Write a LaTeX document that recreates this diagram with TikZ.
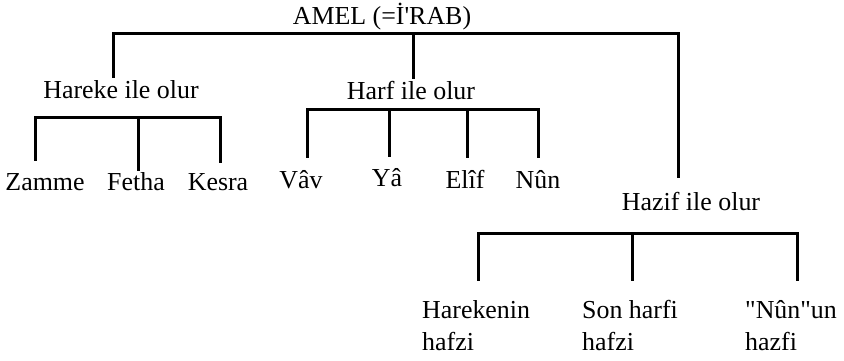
\documentclass[tikz,border=0pt]{standalone}
\usepackage{fontspec}
\setmainfont{Liberation Serif}[Ligatures=TeXOff]
\begin{document}
\begin{tikzpicture}[x=1bp,y=-1bp,
  ln/.style={line width=3bp, line cap=rect, line join=miter},
  lbl/.style={inner sep=0pt, anchor=base, font=\fontsize{26}{32}\selectfont},
  lbltwo/.style={inner sep=0pt, anchor=base west, align=left, font=\fontsize{26}{32}\selectfont}]
\useasboundingbox (0,0) rectangle (844,360);
% labels
\node[lbl] (amel) at (382,24) {AMEL (=İ'RAB)};
\node[lbl] (hareke) at (121,98) {Hareke ile olur};
\node[lbl] (harf) at (411,99) {Harf ile olur};
\node[lbl] (hazif) at (691,210) {Hazif ile olur};
\node[lbl] (zamme) at (45,190) {Zamme};
\node[lbl] (fetha) at (136,190) {Fetha};
\node[lbl] (kesra) at (218,190) {Kesra};
\node[lbl] (vav) at (301,188) {Vâv};
\node[lbl] (ya) at (387,186) {Yâ};
\node[lbl] (elif) at (465,188) {Elîf};
\node[lbl] (nun) at (538,188) {Nûn};
\node[lbltwo] (harekenin) at (422,350) {Harekenin\\hafzi};
\node[lbltwo] (son) at (582,350) {Son harfi\\hafzi};
\node[lbltwo] (nunun) at (745,350) {"Nûn"un\\hazfi};
% top bar
\coordinate (a1) at (113,33);
\coordinate (a2) at (413,33);
\coordinate (a3) at (678,33);
\draw[ln] (a1) -- (a3);
\draw[ln, shorten >=3bp] (a1) -- (a1 |- hareke.north);
\draw[ln, shorten >=3bp] (a2) -- (a2 |- harf.north);
\draw[ln, shorten >=15bp] (a3) -- (a3 |- hazif.north);
% Hareke bracket
\coordinate (b1) at (35,117);
\coordinate (b2) at (138,117);
\coordinate (b3) at (220,117);
\draw[ln] (b1) -- (b3);
\draw[ln, shorten >=13bp] (b1) -- (b1 |- zamme.north);
\draw[ln, shorten >=2bp] (b2) -- (b2 |- fetha.north);
\draw[ln, shorten >=11bp] (b3) -- (b3 |- kesra.north);
% Harf bracket
\coordinate (c1) at (307,109);
\coordinate (c2) at (389,109);
\coordinate (c3) at (467,109);
\coordinate (c4) at (538,109);
\draw[ln] (c1) -- (c4);
\draw[ln, shorten >=13bp] (c1) -- (c1 |- vav.north);
\draw[ln, shorten >=12bp] (c2) -- (c2 |- ya.north);
\draw[ln, shorten >=13bp] (c3) -- (c3 |- elif.north);
\draw[ln, shorten >=13bp] (c4) -- (c4 |- nun.north);
% Hazif bracket
\coordinate (d1) at (478,233);
\coordinate (d2) at (632,233);
\coordinate (d3) at (797,233);
\draw[ln] (d1) -- (d3);
\draw[ln, shorten >=20bp] (d1) -- (d1 |- harekenin.north);
\draw[ln, shorten >=20bp] (d2) -- (d2 |- son.north);
\draw[ln, shorten >=20bp] (d3) -- (d3 |- nunun.north);
\end{tikzpicture}
\end{document}
